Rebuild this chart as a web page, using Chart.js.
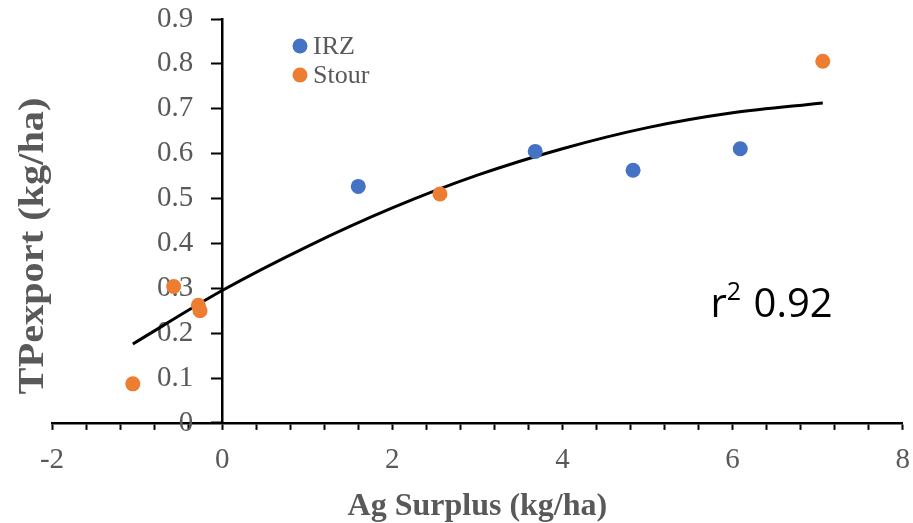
<!DOCTYPE html>
<html>
<head>
<meta charset="utf-8">
<script src="https://cdn.jsdelivr.net/npm/chart.js@4.4.1/dist/chart.umd.min.js"></script>
<style>
  html, body { margin: 0; padding: 0; background: #fff; }
  #wrap { width: 913px; height: 523px; position: relative; }
</style>
</head>
<body>
<div id="wrap"><canvas id="chart"></canvas></div>
<script>
// values
const irzX = [1.6, 3.68, 4.83, 6.09];
const irzY = [0.527, 0.605, 0.563, 0.611];
const stourX = [-1.05, -0.57, -0.28, -0.26, 2.56, 7.06];
const stourY = [0.087, 0.304, 0.262, 0.25, 0.51, 0.806];
// polynomial trend line
const trendX = [-1.05, 0, 1, 2, 3, 4, 5, 6, 7.06];
const trendY = [0.176, 0.295, 0.393, 0.479, 0.552, 0.611, 0.658, 0.691, 0.713];
const xTicks = [-2, 0, 2, 4, 6, 8];
const yTicks = [0, 0.1, 0.2, 0.3, 0.4, 0.5, 0.6, 0.7, 0.8, 0.9];

const gray = '#595959';
const serif = "'Liberation Serif', 'Times New Roman', serif";

const toPoints = (xs, ys) => xs.map((x, i) => ({ x: x, y: ys[i] }));

// y title, legend and r2 label
const extras = {
    id: 'extras',
    afterDraw(chart) {
        const ctx = chart.ctx;
        ctx.save();
        // y axis title (slightly stretched along its length like the original)
        ctx.translate(34, 246);
        ctx.rotate(-Math.PI / 2);
        ctx.scale(1.12, 1);
        ctx.font = 'bold 36px ' + serif;
        ctx.fillStyle = gray;
        ctx.textAlign = 'center';
        ctx.textBaseline = 'middle';
        ctx.fillText('TPexport (kg/ha)', 0, 0);
        ctx.restore();

        // legend
        ctx.save();
        const items = [
            { label: 'IRZ', color: chart.data.datasets[1].backgroundColor, y: 46 },
            { label: 'Stour', color: chart.data.datasets[2].backgroundColor, y: 75 }
        ];
        ctx.font = '26px ' + serif;
        ctx.textBaseline = 'middle';
        items.forEach(it => {
            ctx.fillStyle = it.color;
            ctx.beginPath();
            ctx.arc(300, it.y, 7.5, 0, Math.PI * 2);
            ctx.fill();
            ctx.fillStyle = gray;
            ctx.fillText(it.label, 313, it.y + 1);
        });
        ctx.restore();

        // r2 label
        ctx.save();
        const x = chart.scales.x.getPixelForValue(5.74);
        const y = chart.scales.y.getPixelForValue(0.235);
        ctx.fillStyle = '#000';
        ctx.textBaseline = 'alphabetic';
        ctx.font = '40px "Open Sans", sans-serif';
        ctx.fillText('r', x, y);
        const rw = ctx.measureText('r').width;
        ctx.font = '25px "Open Sans", sans-serif';
        ctx.fillText('2', x + rw, y - 17);
        const sw = ctx.measureText('2').width;
        ctx.font = '40px "Open Sans", sans-serif';
        ctx.fillText(' 0.92', x + rw + sw + 2, y);
        ctx.restore();
    }
};

new Chart(document.getElementById('chart'), {
    type: 'scatter',
    data: {
        datasets: [
            {
                label: 'Trend',
                type: 'line',
                data: toPoints(trendX, trendY),
                borderColor: '#000',
                borderWidth: 3,
                pointRadius: 0,
                fill: false,
                cubicInterpolationMode: 'monotone',
                order: 3
            },
            {
                label: 'IRZ',
                data: toPoints(irzX, irzY),
                backgroundColor: '#4472C4',
                borderWidth: 0,
                pointRadius: 7.5,
                order: 1
            },
            {
                label: 'Stour',
                data: toPoints(stourX, stourY),
                backgroundColor: '#ED7D31',
                borderWidth: 0,
                pointRadius: 7.5,
                order: 2
            }
        ]
    },
    options: {
        responsive: true,
        maintainAspectRatio: false,
        animation: false,
        layout: {
            padding: { left: 52, right: 10, top: 19, bottom: 0 }
        },
        plugins: {
            legend: { display: false },
            tooltip: { enabled: false }
        },
        scales: {
            x: {
                type: 'linear',
                position: 'bottom',
                min: xTicks[0],
                max: xTicks[xTicks.length - 1],
                ticks: {
                    stepSize: 0.4,
                    autoSkip: false,
                    maxRotation: 0,
                    padding: 3,
                    color: gray,
                    font: { family: serif, size: 29, lineHeight: 1.9 },
                    callback: function (v) {
                        const hit = xTicks.find(t => Math.abs(t - v) < 1e-6);
                        return hit === undefined ? '' : String(hit);
                    }
                },
                grid: {
                    drawOnChartArea: false,
                    drawTicks: true,
                    tickLength: 7,
                    tickWidth: 2,
                    color: '#000'
                },
                border: { color: '#000', width: 2.5 },
                title: {
                    display: true,
                    text: 'Ag Surplus (kg/ha)',
                    color: gray,
                    font: { family: serif, size: 32, weight: 'bold', lineHeight: 1.0 },
                    padding: { top: 0, bottom: 0 }
                }
            },
            y: {
                type: 'linear',
                position: { x: 0 },
                min: yTicks[0],
                max: yTicks[yTicks.length - 1],
                afterBuildTicks: function (scale) {
                    scale.ticks = yTicks.map(v => ({ value: v }));
                },
                ticks: {
                    color: gray,
                    font: { family: serif, size: 29, lineHeight: 0.1 },
                    // labels of a value-positioned axis sit on the axis line, so pad them with spaces
                    callback: v => String(+v.toFixed(1)) + '    '
                },
                grid: {
                    drawOnChartArea: false,
                    drawTicks: true,
                    tickLength: 10,
                    tickWidth: 2,
                    color: '#000'
                },
                border: { color: '#000', width: 2.5 }
            }
        }
    },
    plugins: [extras]
});
</script>
</body>
</html>
